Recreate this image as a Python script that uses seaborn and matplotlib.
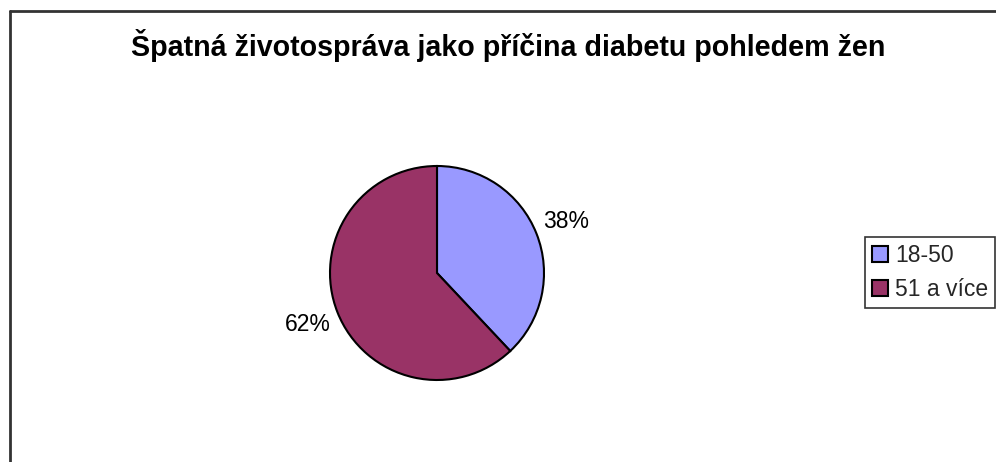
import matplotlib
matplotlib.use("Agg")
import matplotlib.pyplot as plt
import seaborn as sns
from matplotlib.lines import Line2D

categories = ["18-50", "51 a více"]
values = [38, 62]
colors = ["#9999FF", "#993366"]
title = "Špatná životospráva jako příčina diabetu pohledem žen"

sns.set_theme(style="white")
plt.rcParams["font.family"] = ["Liberation Sans", "DejaVu Sans"]

W, H = 996, 462
fig = plt.figure(figsize=(W / 100, H / 100), dpi=100)
fig.patch.set_facecolor("white")

# pie axes: center (437,273), radius 107 px
cx, cy, r = 437, 273, 107
ax = fig.add_axes([(cx - r) / W, (H - cy - r) / H, 2 * r / W, 2 * r / H])
wedges, texts, autotexts = ax.pie(
    values, colors=colors, startangle=90, counterclock=False,
    wedgeprops=dict(edgecolor="black", linewidth=1.5),
    autopct="%1.0f%%", pctdistance=1.3,
    textprops=dict(fontsize=16.5, color="black"),
)
ax.set_xlim(-1, 1)
ax.set_ylim(-1, 1)
ax.set_aspect("equal")
ax.axis("off")

fig.text(508 / W, 1 - 45 / H, title, ha="center", va="center",
         fontsize=20.6, fontweight="bold", color="black")

leg = fig.legend(wedges, categories, loc="upper left",
                 bbox_to_anchor=(865 / W, 1 - 237 / H),
                 frameon=True, fancybox=False, fontsize=16.5,
                 handlelength=0.7, handleheight=0.7, handletextpad=0.3,
                 borderpad=0.3, labelspacing=0.5, borderaxespad=0)
leg.get_frame().set_edgecolor("black")
leg.get_frame().set_linewidth(1.2)

# outer chart border (left and top visible)
fig.add_artist(Line2D([10 / W, 10 / W], [0, 1 - 11 / H], color="#333333",
                      linewidth=2, transform=fig.transFigure))
fig.add_artist(Line2D([10 / W, 1.0], [1 - 11 / H, 1 - 11 / H], color="#333333",
                      linewidth=2, transform=fig.transFigure))

fig.savefig("out.png", dpi=100)
